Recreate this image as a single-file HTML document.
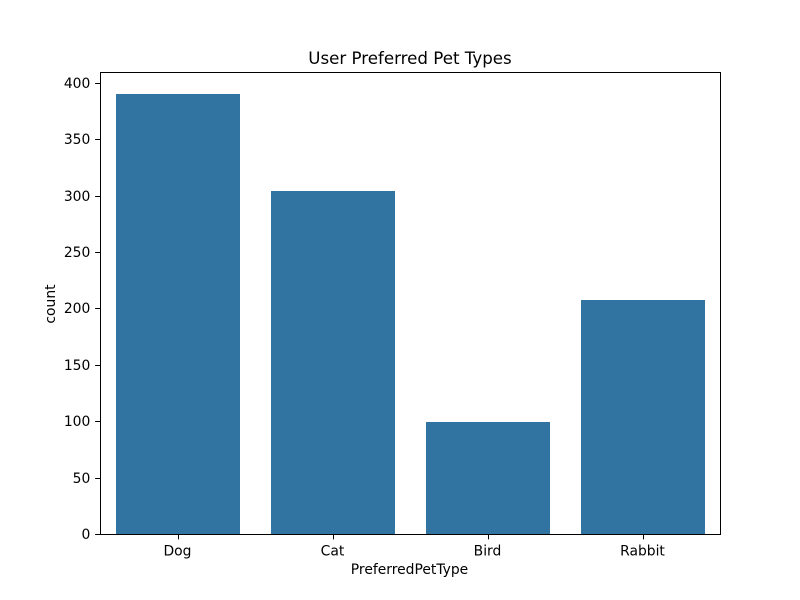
<!DOCTYPE html>
<html>
<head>
<meta charset="utf-8">
<style>
html,body{margin:0;padding:0;background:#fff;}
svg{display:block;}
text{font-family:"DejaVu Sans",sans-serif;fill:#000;}
</style>
</head>
<body>
<svg id="chart" width="800" height="600" viewBox="0 0 800 600" xmlns="http://www.w3.org/2000/svg"></svg>
<script>
const categories = ["Dog", "Cat", "Bird", "Rabbit"];
const counts = [390, 304, 99, 207];
const yTicks = [0, 50, 100, 150, 200, 250, 300, 350, 400];
const yMax = 409.5;

const left = 100, right = 720, top_ = 72, bottom = 534;
const svg = document.getElementById('chart');
const NS = 'http://www.w3.org/2000/svg';
function make(tag, attrs, text) {
  const el = document.createElementNS(NS, tag);
  for (const k in attrs) el.setAttribute(k, attrs[k]);
  if (text !== undefined) el.textContent = text;
  svg.appendChild(el);
  return el;
}
function xScale(i) { return left + (i + 0.5) / categories.length * (right - left); }
function yScale(v) { return bottom - v / yMax * (bottom - top_); }
function snap(p) { return Math.floor(p + 0.5) + 0.5; }
const barW = 0.8 * (right - left) / categories.length;

const title = make('text', {x: 410, y: 64, 'text-anchor': 'middle', 'font-size': 16.67}, 'User Preferred Pet Types');



categories.forEach((c, i) => {
  const bx = Math.round(xScale(i) + 0.5 - barW / 2);
  const by = Math.round(yScale(counts[i]));
  const b = make('rect', {x: bx, y: by, width: Math.round(barW), height: bottom - by, fill: '#3274a1'});
  
  
  const tx = snap(xScale(i));
  const t = make('line', {x1: tx, x2: tx, y1: bottom, y2: bottom + 5.4, stroke: '#000', 'stroke-width': 1});
  
  
  const l = make('text', {x: xScale(i), y: bottom + 21.5, 'text-anchor': 'middle', 'font-size': 13.89}, c);
  
  
});

yTicks.forEach(v => {
  const ty = snap(yScale(v));
  const t = make('line', {x1: left - 4.9, x2: left, y1: ty, y2: ty, stroke: '#000', 'stroke-width': 1});
  
  
  const l = make('text', {x: left - 9.7, y: ty + 4.5, 'text-anchor': 'end', 'font-size': 13.89}, v);
  
  
});

const frame = make('rect', {x: left + 0.5, y: top_ + 0.5, width: right - left, height: bottom - top_, fill: 'none', stroke: '#000', 'stroke-width': 1});



const xTitle = make('text', {x: 409.5, y: 574, 'text-anchor': 'middle', 'font-size': 13.89}, 'PreferredPetType');



const yTitle = make('text', {x: 55, y: 304, 'text-anchor': 'middle', 'font-size': 13.89, transform: 'rotate(-90 55 304)'}, 'count');


</script>
</body>
</html>
